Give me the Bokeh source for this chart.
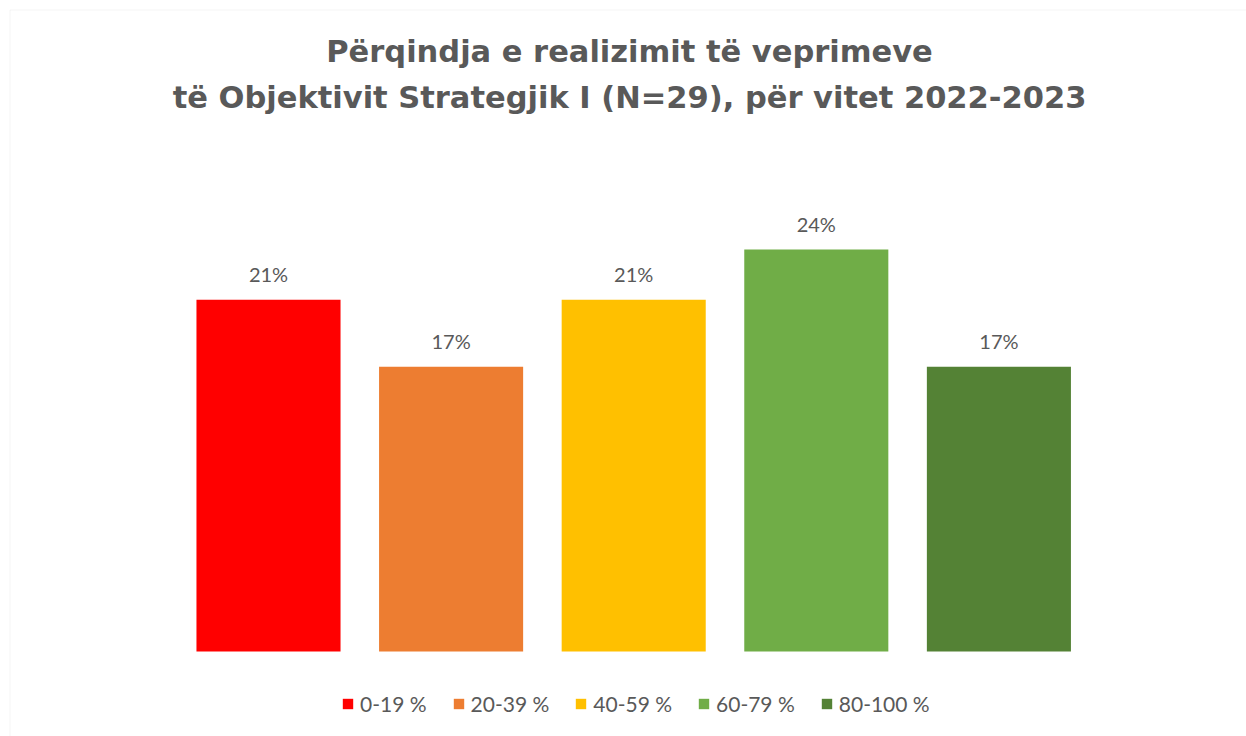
from bokeh.plotting import figure
from bokeh.models import ColumnDataSource, Range1d, Label, LabelSet, Legend, LegendItem, BoxAnnotation
from bokeh.core.properties import value
from bokeh.embed import file_html
from bokeh.resources import INLINE

# ---- data ----
categories = ["0-19 %", "20-39 %", "40-59 %", "60-79 %", "80-100 %"]
values = [21, 17, 21, 24, 17]
colors = ["#FF0000", "#ED7D31", "#FFC000", "#70AD47", "#548235"]
title_lines = ["Përqindja e realizimit të veprimeve",
               "të Objektivit Strategjik I (N=29), për vitet 2022-2023"]

W, H = 1246, 736
px_per_x = 182.6
x_start = -268 / px_per_x
x_end = x_start + W / px_per_x
px_per_y = 16.75
y_top = 651 / px_per_y
y_bot = -(H - 651) / px_per_y

src = ColumnDataSource(dict(
    x=list(range(len(categories))),
    top=values,
    color=colors,
    cat=categories,
    lab=[f"{v}%" for v in values],
))

p = figure(width=W, height=H, output_backend="svg", toolbar_location=None,
           x_range=Range1d(x_start, x_end),
           y_range=Range1d(y_bot, y_top),
           min_border=0, min_border_left=0, min_border_right=0,
           min_border_top=0, min_border_bottom=0)
p.xaxis.visible = False
p.yaxis.visible = False
p.xgrid.visible = False
p.ygrid.visible = False
p.background_fill_color = "white"
p.border_fill_color = "white"
p.outline_line_color = None

# chart-area border (top/left visible, right/bottom beyond the picture)
p.add_layout(BoxAnnotation(left=x_start + 9.5 / px_per_x, right=x_end + 1,
                           top=y_top - 9.5 / px_per_y, bottom=y_bot - 1,
                           fill_alpha=0, line_color="#D9D9D9", line_width=1))

r = p.vbar(x="x", top="top", bottom=0, width=0.789, color="color", source=src, line_color=None)

labels = LabelSet(x="x", y="top", text="lab", source=src, text_align="center",
                  text_baseline="alphabetic", y_offset=18, text_font=value("Lato"),
                  text_font_size="20px", text_color="#595959")
p.add_layout(labels)

items = [LegendItem(label=c, renderers=[r], index=i) for i, c in enumerate(categories)]
legend = Legend(items=items, orientation="horizontal", location=(341, 20),
                glyph_width=13, glyph_height=13, label_standoff=6, spacing=25,
                padding=0, margin=0, border_line_color=None, background_fill_alpha=0,
                label_text_font="Lato", label_text_font_size="21px",
                label_text_color="#595959")
p.add_layout(legend)

for line, yb in zip(title_lines, [685, 639]):
    p.add_layout(Label(x=629, y=yb, x_units="screen", y_units="screen", text=line,
                       text_align="center", text_baseline="alphabetic",
                       text_font="DejaVu Sans", text_font_style="bold",
                       text_font_size="30.5px", text_color="#595959"))

open("out.html", "w").write(file_html(p, INLINE))
